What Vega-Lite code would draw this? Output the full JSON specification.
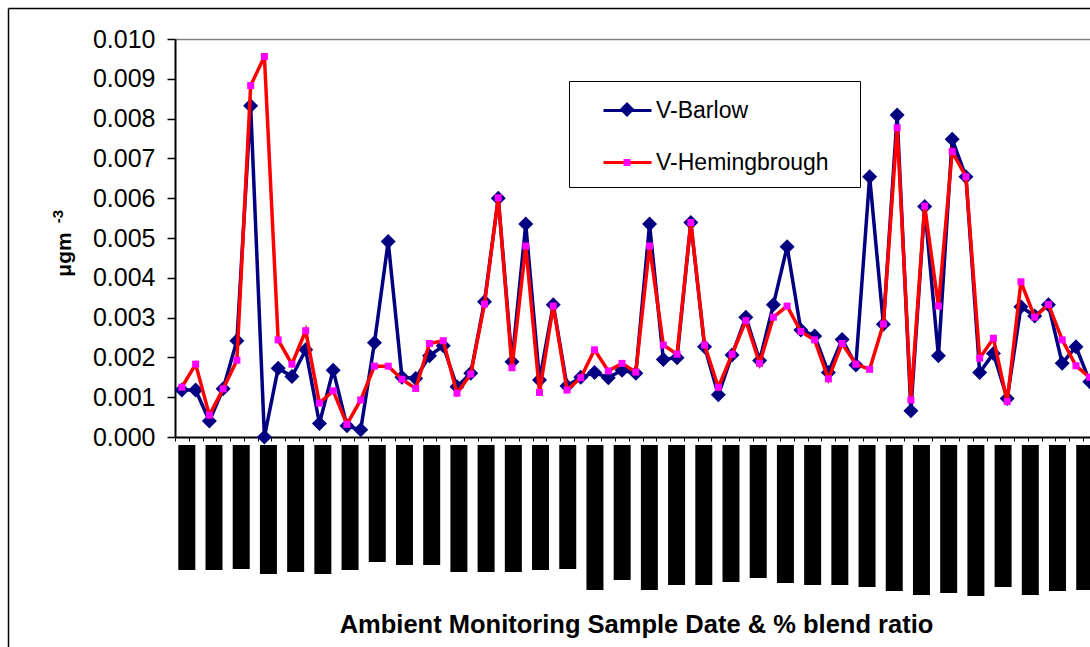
{
  "$schema": "https://vega.github.io/schema/vega-lite/v6.json",
  "width": 915,
  "height": 398,
  "autosize": {"type": "none"},
  "padding": {"left": 175, "top": 39, "right": 0, "bottom": 210},
  "background": "white",
  "config": {
    "view": {"stroke": null},
    "font": "Liberation Sans",
    "axis": {"labelFont": "Liberation Sans", "titleFont": "Liberation Sans"},
    "legend": {"labelFont": "Liberation Sans", "titleFont": "Liberation Sans"}
  },
  "datasets": {
    "conc": [
      {"i":1,"series":"V-Barlow","v":0.00118},{"i":2,"series":"V-Barlow","v":0.00118},{"i":3,"series":"V-Barlow","v":0.00040},{"i":4,"series":"V-Barlow","v":0.00121},{"i":5,"series":"V-Barlow","v":0.00242},
      {"i":6,"series":"V-Barlow","v":0.00832},{"i":7,"series":"V-Barlow","v":0.00000},{"i":8,"series":"V-Barlow","v":0.00173},{"i":9,"series":"V-Barlow","v":0.00152},{"i":10,"series":"V-Barlow","v":0.00219},
      {"i":11,"series":"V-Barlow","v":0.00034},{"i":12,"series":"V-Barlow","v":0.00168},{"i":13,"series":"V-Barlow","v":0.00028},{"i":14,"series":"V-Barlow","v":0.00018},{"i":15,"series":"V-Barlow","v":0.00237},
      {"i":16,"series":"V-Barlow","v":0.00491},{"i":17,"series":"V-Barlow","v":0.00150},{"i":18,"series":"V-Barlow","v":0.00147},{"i":19,"series":"V-Barlow","v":0.00204},{"i":20,"series":"V-Barlow","v":0.00229},
      {"i":21,"series":"V-Barlow","v":0.00126},{"i":22,"series":"V-Barlow","v":0.00160},{"i":23,"series":"V-Barlow","v":0.00340},{"i":24,"series":"V-Barlow","v":0.00600},{"i":25,"series":"V-Barlow","v":0.00189},
      {"i":26,"series":"V-Barlow","v":0.00535},{"i":27,"series":"V-Barlow","v":0.00143},{"i":28,"series":"V-Barlow","v":0.00332},{"i":29,"series":"V-Barlow","v":0.00128},{"i":30,"series":"V-Barlow","v":0.00150},
      {"i":31,"series":"V-Barlow","v":0.00162},{"i":32,"series":"V-Barlow","v":0.00149},{"i":33,"series":"V-Barlow","v":0.00168},{"i":34,"series":"V-Barlow","v":0.00160},{"i":35,"series":"V-Barlow","v":0.00535},
      {"i":36,"series":"V-Barlow","v":0.00195},{"i":37,"series":"V-Barlow","v":0.00199},{"i":38,"series":"V-Barlow","v":0.00539},{"i":39,"series":"V-Barlow","v":0.00227},{"i":40,"series":"V-Barlow","v":0.00106},
      {"i":41,"series":"V-Barlow","v":0.00206},{"i":42,"series":"V-Barlow","v":0.00301},{"i":43,"series":"V-Barlow","v":0.00192},{"i":44,"series":"V-Barlow","v":0.00332},{"i":45,"series":"V-Barlow","v":0.00478},
      {"i":46,"series":"V-Barlow","v":0.00269},{"i":47,"series":"V-Barlow","v":0.00254},{"i":48,"series":"V-Barlow","v":0.00162},{"i":49,"series":"V-Barlow","v":0.00245},{"i":50,"series":"V-Barlow","v":0.00181},
      {"i":51,"series":"V-Barlow","v":0.00654},{"i":52,"series":"V-Barlow","v":0.00283},{"i":53,"series":"V-Barlow","v":0.00809},{"i":54,"series":"V-Barlow","v":0.00066},{"i":55,"series":"V-Barlow","v":0.00579},
      {"i":56,"series":"V-Barlow","v":0.00204},{"i":57,"series":"V-Barlow","v":0.00748},{"i":58,"series":"V-Barlow","v":0.00654},{"i":59,"series":"V-Barlow","v":0.00162},{"i":60,"series":"V-Barlow","v":0.00210},
      {"i":61,"series":"V-Barlow","v":0.00097},{"i":62,"series":"V-Barlow","v":0.00327},{"i":63,"series":"V-Barlow","v":0.00304},{"i":64,"series":"V-Barlow","v":0.00332},{"i":65,"series":"V-Barlow","v":0.00185},
      {"i":66,"series":"V-Barlow","v":0.00227},{"i":67,"series":"V-Barlow","v":0.00139},
      {"i":1,"series":"V-Hemingbrough","v":0.00125},{"i":2,"series":"V-Hemingbrough","v":0.00183},{"i":3,"series":"V-Hemingbrough","v":0.00055},{"i":4,"series":"V-Hemingbrough","v":0.00121},{"i":5,"series":"V-Hemingbrough","v":0.00193},
      {"i":6,"series":"V-Hemingbrough","v":0.00883},{"i":7,"series":"V-Hemingbrough","v":0.00956},{"i":8,"series":"V-Hemingbrough","v":0.00244},{"i":9,"series":"V-Hemingbrough","v":0.00183},{"i":10,"series":"V-Hemingbrough","v":0.00267},
      {"i":11,"series":"V-Hemingbrough","v":0.00085},{"i":12,"series":"V-Hemingbrough","v":0.00116},{"i":13,"series":"V-Hemingbrough","v":0.00032},{"i":14,"series":"V-Hemingbrough","v":0.00093},{"i":15,"series":"V-Hemingbrough","v":0.00178},
      {"i":16,"series":"V-Hemingbrough","v":0.00178},{"i":17,"series":"V-Hemingbrough","v":0.00145},{"i":18,"series":"V-Hemingbrough","v":0.00122},{"i":19,"series":"V-Hemingbrough","v":0.00235},{"i":20,"series":"V-Hemingbrough","v":0.00242},
      {"i":21,"series":"V-Hemingbrough","v":0.00110},{"i":22,"series":"V-Hemingbrough","v":0.00158},{"i":23,"series":"V-Hemingbrough","v":0.00334},{"i":24,"series":"V-Hemingbrough","v":0.00601},{"i":25,"series":"V-Hemingbrough","v":0.00174},
      {"i":26,"series":"V-Hemingbrough","v":0.00480},{"i":27,"series":"V-Hemingbrough","v":0.00112},{"i":28,"series":"V-Hemingbrough","v":0.00329},{"i":29,"series":"V-Hemingbrough","v":0.00118},{"i":30,"series":"V-Hemingbrough","v":0.00149},
      {"i":31,"series":"V-Hemingbrough","v":0.00219},{"i":32,"series":"V-Hemingbrough","v":0.00166},{"i":33,"series":"V-Hemingbrough","v":0.00185},{"i":34,"series":"V-Hemingbrough","v":0.00163},{"i":35,"series":"V-Hemingbrough","v":0.00480},
      {"i":36,"series":"V-Hemingbrough","v":0.00231},{"i":37,"series":"V-Hemingbrough","v":0.00208},{"i":38,"series":"V-Hemingbrough","v":0.00539},{"i":39,"series":"V-Hemingbrough","v":0.00231},{"i":40,"series":"V-Hemingbrough","v":0.00125},
      {"i":41,"series":"V-Hemingbrough","v":0.00208},{"i":42,"series":"V-Hemingbrough","v":0.00292},{"i":43,"series":"V-Hemingbrough","v":0.00185},{"i":44,"series":"V-Hemingbrough","v":0.00301},{"i":45,"series":"V-Hemingbrough","v":0.00329},
      {"i":46,"series":"V-Hemingbrough","v":0.00265},{"i":47,"series":"V-Hemingbrough","v":0.00244},{"i":48,"series":"V-Hemingbrough","v":0.00146},{"i":49,"series":"V-Hemingbrough","v":0.00235},{"i":50,"series":"V-Hemingbrough","v":0.00183},
      {"i":51,"series":"V-Hemingbrough","v":0.00170},{"i":52,"series":"V-Hemingbrough","v":0.00284},{"i":53,"series":"V-Hemingbrough","v":0.00777},{"i":54,"series":"V-Hemingbrough","v":0.00093},{"i":55,"series":"V-Hemingbrough","v":0.00580},
      {"i":56,"series":"V-Hemingbrough","v":0.00329},{"i":57,"series":"V-Hemingbrough","v":0.00717},{"i":58,"series":"V-Hemingbrough","v":0.00654},{"i":59,"series":"V-Hemingbrough","v":0.00198},{"i":60,"series":"V-Hemingbrough","v":0.00248},
      {"i":61,"series":"V-Hemingbrough","v":0.00089},{"i":62,"series":"V-Hemingbrough","v":0.00390},{"i":63,"series":"V-Hemingbrough","v":0.00301},{"i":64,"series":"V-Hemingbrough","v":0.00333},{"i":65,"series":"V-Hemingbrough","v":0.00244},
      {"i":66,"series":"V-Hemingbrough","v":0.00179},{"i":67,"series":"V-Hemingbrough","v":0.00150}
    ],
    "blend": [
      {"i":1,"blend":125},{"i":3,"blend":125},{"i":5,"blend":124},{"i":7,"blend":129},{"i":9,"blend":127},{"i":11,"blend":129},
      {"i":13,"blend":125},{"i":15,"blend":117},{"i":17,"blend":120},{"i":19,"blend":120},{"i":21,"blend":127},{"i":23,"blend":127},
      {"i":25,"blend":127},{"i":27,"blend":125},{"i":29,"blend":124},{"i":31,"blend":145},{"i":33,"blend":135},{"i":35,"blend":145},
      {"i":37,"blend":140},{"i":39,"blend":140},{"i":41,"blend":137},{"i":43,"blend":133},{"i":45,"blend":138},{"i":47,"blend":140},
      {"i":49,"blend":140},{"i":51,"blend":142},{"i":53,"blend":146},{"i":55,"blend":150},{"i":57,"blend":148},{"i":59,"blend":151},
      {"i":61,"blend":142},{"i":63,"blend":150},{"i":65,"blend":146},{"i":67,"blend":145}
    ]
  },
  "layer": [
    {
      "data": {"name": "blend"},
      "mark": {"type": "point", "opacity": 0},
      "encoding": {
        "x": {"datum": 0, "type": "quantitative",
              "scale": {"domain": [0, 1], "range": [-167, 1100], "nice": false, "zero": false},
              "axis": {"orient": "top", "offset": 31, "domainColor": "black", "domainWidth": 1.5, "ticks": false, "labels": false, "grid": false, "title": null}},
        "y": {"datum": 0, "type": "quantitative",
              "scale": {"domain": [0, 1], "range": [-31, 700], "nice": false, "zero": false},
              "axis": {"orient": "left", "offset": 167, "domainColor": "black", "domainWidth": 1.5, "ticks": false, "labels": false, "grid": false,
                       "title": "-3", "titleFontSize": 15, "titleFontWeight": "bold", "titleColor": "black",
                       "titleAngle": 270, "titleAlign": "center", "titleBaseline": "alphabetic",
                       "titleX": 54, "titleY": 177}}
      }
    },
    {
      "data": {"name": "blend"},
      "mark": {"type": "bar", "color": "black", "size": 17},
      "encoding": {
        "x": {"field": "i", "type": "quantitative", "scale": {"domain": [0.5, 67.02], "nice": false, "zero": false}, "axis": null},
        "y": {"field": "blend", "type": "quantitative", "scale": {"domain": [0, 150], "range": [406, 556], "nice": false}, "axis": null},
        "y2": {"datum": 0}
      }
    },
    {
      "data": {"name": "conc"},
      "encoding": {
        "x": {"field": "i", "type": "quantitative",
              "scale": {"domain": [0.5, 67.02], "nice": false, "zero": false},
              "axis": {
                "orient": "bottom",
                "values": [0.5,1.5,2.5,3.5,4.5,5.5,6.5,7.5,8.5,9.5,10.5,11.5,12.5,13.5,14.5,15.5,16.5,17.5,18.5,19.5,20.5,21.5,22.5,23.5,24.5,25.5,26.5,27.5,28.5,29.5,30.5,31.5,32.5,33.5,34.5,35.5,36.5,37.5,38.5,39.5,40.5,41.5,42.5,43.5,44.5,45.5,46.5,47.5,48.5,49.5,50.5,51.5,52.5,53.5,54.5,55.5,56.5,57.5,58.5,59.5,60.5,61.5,62.5,63.5,64.5,65.5,66.5],
                "labels": false, "grid": false,
                "tickSize": 4, "tickColor": "black", "tickWidth": 1,
                "domainColor": "black", "domainWidth": 2,
                "title": "Ambient Monitoring Sample Date & % blend ratio",
                "titleFontSize": 25.5, "titleFontWeight": "bold", "titleColor": "black",
                "titleBaseline": "alphabetic", "titleY": 195, "titleX": 461
              }},
        "y": {"field": "v", "type": "quantitative",
              "scale": {"domain": [0, 0.01], "nice": false, "zero": true},
              "axis": {
                "orient": "left",
                "values": [0, 0.001, 0.002, 0.003, 0.004, 0.005, 0.006, 0.007, 0.008, 0.009, 0.01],
                "format": ".3f",
                "labelFontSize": 25, "labelColor": "black", "labelPadding": 12, "labelOverlap": false, "labelFlush": false,
                "tickSize": 8, "tickColor": "black", "tickWidth": 1.5,
                "domainColor": "black", "domainWidth": 2,
                "grid": true, "gridColor": "#808080", "gridWidth": 1.5,
                "gridOpacity": {"condition": {"test": "datum.value > 0.0099", "value": 1}, "value": 0},
                "title": "μgm",
                "titleFontSize": 21, "titleFontWeight": "bold", "titleColor": "black",
                "titleAngle": 270, "titleAlign": "center", "titleBaseline": "alphabetic",
                "titleX": -105, "titleY": 215
              }}
      },
      "layer": [
        {
          "transform": [{"filter": "datum.series === 'V-Barlow'"}],
          "mark": {"type": "line", "strokeWidth": 3.5},
          "encoding": {
            "color": {"field": "series", "type": "nominal",
                      "scale": {"domain": ["V-Barlow", "V-Hemingbrough"], "range": ["#000080", "#FF0000"]},
                      "legend": {
                        "orient": "none", "legendX": 394, "legendY": 42, "columns": 1,
                        "title": "wwwwwwwwwwwwwwwwwwwwwwwwwwwwwwwwwwwwwwwwwwwwwl", "titleOrient": "bottom", "titleColor": "transparent",
                        "titleFontSize": 8, "titlePadding": 0, "titleLimit": 1000,
                        "symbolType": "stroke", "symbolSize": 2304, "symbolStrokeWidth": 3,
                        "labelFontSize": 23, "labelColor": "black", "labelLimit": 400,
                        "padding": 4, "rowPadding": 14, "symbolOffset": 29, "labelOffset": 3,
                        "strokeColor": "black", "fillColor": "white"
                      }}
          }
        },
        {
          "transform": [{"filter": "datum.series === 'V-Barlow'"}],
          "mark": {"type": "point", "filled": true, "opacity": 1, "strokeWidth": 0},
          "encoding": {
            "fill": {"field": "series", "type": "nominal", "scale": {"range": ["#000080", "#FF00FF"]},
                     "legend": {
                       "orient": "none", "legendX": 394, "legendY": 42, "title": null, "columns": 1,
                       "labelFontSize": 23, "labelColor": "transparent", "labelLimit": 400,
                       "padding": 17, "rowPadding": 29, "symbolOffset": 29.5, "labelOffset": 24
                     }},
            "shape": {"field": "series", "type": "nominal", "scale": {"range": ["diamond", "square"]}},
            "size": {"field": "series", "type": "nominal", "scale": {"range": [225, 49]}}
          }
        },
        {
          "transform": [{"filter": "datum.series === 'V-Hemingbrough'"}],
          "mark": {"type": "line", "strokeWidth": 3.5},
          "encoding": {
            "color": {"field": "series", "type": "nominal"}
          }
        },
        {
          "transform": [{"filter": "datum.series === 'V-Hemingbrough'"}],
          "mark": {"type": "point", "filled": true, "opacity": 1, "strokeWidth": 0},
          "encoding": {
            "fill": {"field": "series", "type": "nominal"},
            "shape": {"field": "series", "type": "nominal"},
            "size": {"field": "series", "type": "nominal"}
          }
        }
      ]
    }
  ],
  "resolve": {
    "scale": {"x": "independent", "y": "independent"},
    "axis": {"x": "independent", "y": "independent"}
  }
}
